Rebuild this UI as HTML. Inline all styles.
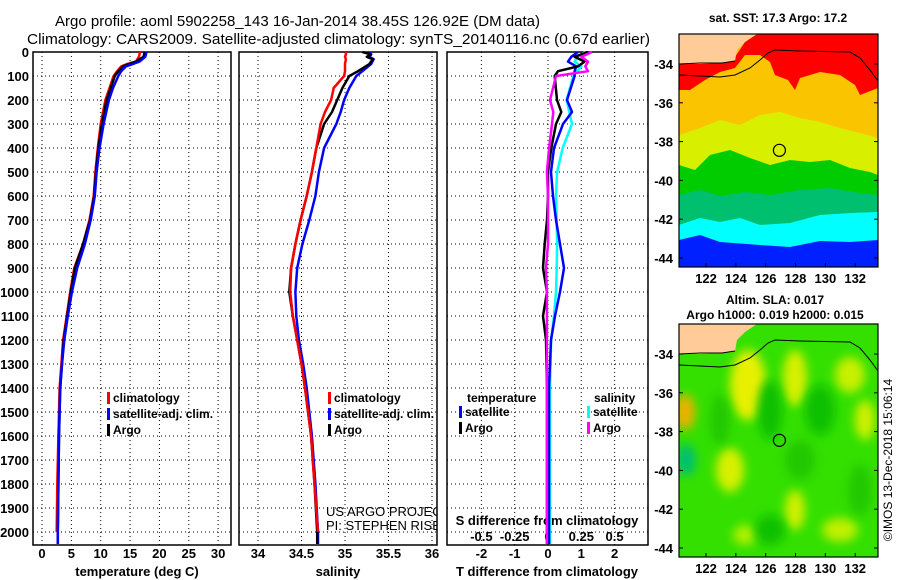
<!DOCTYPE html>
<html><head><meta charset="utf-8"><style>
html,body{margin:0;padding:0;background:#fff;}
svg{display:block;font-family:"Liberation Sans",sans-serif;font-weight:bold;}
</style></head><body>
<svg id="c" width="900" height="580" viewBox="0 0 900 580">
<defs>
<filter id="bl" x="-50%" y="-50%" width="200%" height="200%"><feGaussianBlur stdDeviation="5"/></filter>
<clipPath id="m1"><rect x="679" y="34" width="199" height="233"/></clipPath>
<clipPath id="m2"><rect x="679" y="324" width="199" height="233"/></clipPath>
<clipPath id="p2"><rect x="239" y="52" width="198" height="520"/></clipPath>
</defs>
<text x="55" y="26" font-size="15" font-weight="normal" textLength="485" lengthAdjust="spacingAndGlyphs">Argo profile: aoml 5902258_143 16-Jan-2014 38.45S 126.92E (DM data)</text>
<text x="27" y="44" font-size="15" font-weight="normal" textLength="623" lengthAdjust="spacingAndGlyphs">Climatology: CARS2009. Satellite-adjusted climatology: synTS_20140116.nc (0.67d earlier)</text>
<g id="g"></g>
</svg>
<script>
// depth grid (dbar)
const depthTicks=[0,100,200,300,400,500,600,700,800,900,1000,1100,1200,1300,1400,1500,1600,1700,1800,1900,2000];
// temperature panel
const tTicks=[0,5,10,15,20,25,30];
const tDepth=[0,20,40,50,60,80,100,150,200,300,400,500,600,700,800,900,1000,1100,1200,1300,1400,1600,1800,2000,2050];
const tArgo=[17.5,17.3,16,14.8,13.8,13,12.4,11.7,11.0,10.2,9.6,9.2,8.9,8.2,7.0,5.6,4.9,4.3,3.7,3.4,3.1,2.9,2.8,2.7,2.7];
const tClim=[16.7,16.5,16.0,14.5,13.5,12.8,12.2,11.5,10.8,10.0,9.5,9.1,8.8,8.1,7.0,5.5,4.8,4.2,3.6,3.3,3.0,2.8,2.6,2.5,null];
const tSat=[17.8,17.6,16.6,15.5,14.3,13.5,13.0,12.1,11.4,10.5,9.8,9.3,9.0,8.3,7.3,6.0,5.1,4.4,3.8,3.4,3.1,2.9,2.8,2.7,2.7];
// salinity panel
const sTicks=[34,34.5,35,35.5,36];
const sDepth=[0,10,20,30,50,80,100,150,200,250,300,400,500,600,700,800,900,1000,1100,1200,1300,1400,1600,1800,2000,2050];
const sArgo=[35.2,35.3,35.25,35.32,35.28,35.15,35.05,34.97,34.91,34.85,34.76,34.67,34.62,34.56,34.49,34.43,34.38,34.36,34.40,34.45,34.50,34.54,34.61,34.65,34.68,34.68];
const sClim=[35.01,35.01,35.0,35.01,35.0,35.0,34.99,34.87,34.84,34.77,34.72,34.67,34.62,34.56,34.49,34.43,34.38,34.37,34.40,34.45,34.50,34.54,34.61,34.65,34.69,null];
const sSat=[35.28,35.3,35.28,35.33,35.3,35.2,35.13,35.05,34.99,34.95,34.90,34.76,34.70,34.66,34.59,34.51,34.45,34.43,34.44,34.47,34.52,34.56,34.62,34.66,34.69,34.69];
// difference panel
const dtTicks=[-2,-1,0,1,2];
const dsTickLabels=["-0.5","-0.25","0","0.25","0.5"];
const dsTicks=[-0.5,-0.25,0,0.25,0.5];
const dDepth=[0,20,40,60,80,100,200,250,300,400,500,600,700,800,900,1000,1100,1200,1400,2050];
const dtArgo=[1.2,0.8,1.1,0.9,0.3,0.2,0.27,0.4,0.24,0.1,0,0,-0.03,-0.1,-0.15,-0.03,-0.15,-0.06,-0.03,-0.03];
const dtSat=[0.9,0.7,0.6,0.85,0.8,0.8,0.57,0.72,0.45,0.18,0.09,0.15,0.24,0.36,0.48,0.36,0.21,0.09,0.03,0.03];
const dsArgo=[0.33,0.25,0.3,0.28,0.3,0.06,0.015,0.04,0.03,0.008,-0.008,0,0,0,-0.015,-0.008,-0.008,-0.008,-0.008,-0.008];
const dsSat=[0.28,0.22,0.2,0.25,0.22,0.19,0.14,0.16,0.18,0.11,0.068,0.06,0.065,0.068,0.065,0.06,0.045,0.023,0.015,0.015];
// map axes
const lonTicks=[122,124,126,128,130,132];
const latTicks=[-34,-36,-38,-40,-42,-44];
const floatLon=[126.92], floatLat=[-38.45];

const NS="http://www.w3.org/2000/svg", G=document.getElementById('g');
function el(t,a,p){const e=document.createElementNS(NS,t);for(const k in a)e.setAttribute(k,a[k]);(p||G).appendChild(e);return e;}
function tx(x,y,s,sz,anc,name,p){const e=el('text',{x:x,y:y,'font-size':sz,'text-anchor':anc||'middle'},p);e.textContent=s;


return e;}
const Y=d=>52+0.24*d, yTop=52, yBot=545;
const X1=v=>42+5.87*v, X2=v=>258+87*(v-34), X3=v=>548+33.3*v, X3s=v=>548+133.2*v;
function panel(x0,x1,xt,fx,name){
  const g=el('g',{});
  
  
  depthTicks.forEach(d=>{el('line',{x1:x0,x2:x1,y1:Y(d),y2:Y(d),stroke:'#000','stroke-dasharray':'1 3'},g);});
  xt.forEach(v=>{el('line',{x1:fx(v),x2:fx(v),y1:yTop,y2:yBot,stroke:'#000','stroke-dasharray':'1 3'},g);});
  el('rect',{x:x0,y:yTop,width:x1-x0,height:yBot-yTop,fill:'none',stroke:'#000','stroke-width':1.5},g);
  return g;}
function line(xs,ds,fx,col,name,w){
  let p='';xs.forEach((v,i)=>{if(v===null)return;p+=(p?'L':'M')+fx(v).toFixed(1)+' '+Y(ds[i]).toFixed(1);});
  const e=el('path',{d:p,fill:'none',stroke:col,'stroke-width':w||2.5,'stroke-linejoin':'round'});
  
  }
depthTicks.forEach(d=>tx(29,Y(d)+5,String(d),13,'end','depth-tick-label'));
panel(33,231,tTicks,X1,'temperature-panel');
panel(239,437,sTicks,X2,'salinity-panel');
panel(447,648,dtTicks,X3,'difference-panel');
tTicks.forEach(v=>tx(X1(v),558,String(v),13,'middle','temperature-tick-label'));
sTicks.forEach(v=>tx(X2(v),558,String(v),13,'middle','salinity-tick-label'));
dtTicks.forEach(v=>tx(X3(v),558,String(v),13,'middle','t-diff-tick-label'));
dsTicks.forEach((v,i)=>tx(X3s(v),541,dsTickLabels[i],13,'middle','s-diff-tick-label'));
tx(137,576,'temperature (deg C)',13,'middle','temperature-axis-title');
tx(338,576,'salinity',13,'middle','salinity-axis-title');
tx(547,576,'T difference from climatology',13,'middle','t-diff-axis-title');
tx(547,525,'S difference from climatology',13,'middle','s-diff-axis-title');
line(tClim,tDepth,X1,'#f00','temperature-climatology-line');
line(tArgo,tDepth,X1,'#000','temperature-argo-line');
line(tSat,tDepth,X1,'#00f','temperature-satellite-line');
line(sSat,sDepth,X2,'#00f','salinity-satellite-line');
line(sArgo,sDepth,X2,'#000','salinity-argo-line');
line(sClim,sDepth,X2,'#f00','salinity-climatology-line');
line(dsSat,dDepth,X3s,'#0ff','s-diff-satellite-line');
line(dtSat,dDepth,X3,'#00f','t-diff-satellite-line');
line(dtArgo,dDepth,X3,'#000','t-diff-argo-line');
line(dsArgo,dDepth,X3s,'#f0f','s-diff-argo-line');
function leg(x,y,col,s,name){el('rect',{x:x,y:y-10,width:3,height:12,fill:col});tx(x+6,y,s,12,'start',name);}
[[107,'#f00','climatology'],[107,'#00f','satellite-adj. clim.'],[107,'#000','Argo']].forEach((a,i)=>leg(a[0],402+i*16,a[1],a[2],'legend-temperature-'+i));
[[328,'#f00','climatology'],[328,'#00f','satellite-adj. clim.'],[328,'#000','Argo']].forEach((a,i)=>leg(a[0],402+i*16,a[1],a[2],'legend-salinity-'+i));
tx(467,402,'temperature',12,'start','legend-temperature-heading');
leg(459,416,'#00f','satellite','legend-t-satellite');leg(459,432,'#000','Argo','legend-t-argo');
tx(594,402,'salinity',12,'start','legend-salinity-heading');
leg(587,416,'#0ff','satellite','legend-s-satellite');leg(587,432,'#f0f','Argo','legend-s-argo');
const cg=el('g',{'clip-path':'url(#p2)'});
const c1=tx(326,516,'US ARGO PROJECT',13,'start','credit-project',cg);c1.setAttribute('font-weight','normal');
const c2=tx(326,530,'PI: STEPHEN RISER',13,'start','credit-pi',cg);c2.setAttribute('font-weight','normal');
// maps
const LX=v=>706+14.92*(v-122), LY=(v,y0)=>y0+30+19.4*(-34-v);
function map(y0,clip,name,bodyFn){
  const g=el('g',{'clip-path':'url(#'+clip+')'});
  
  
  bodyFn(g,y0);
  el('path',{d:`M679 ${y0}L757 ${y0}L745 ${y0+8}L737 ${y0+16}L735 ${y0+27}L722 ${y0+29}L700 ${y0+30}L679 ${y0+30}Z`,fill:'#ffcc99'},g);
  el('path',{d:`M679 ${y0+41}L700 ${y0+42}L720 ${y0+43}L735 ${y0+41}L750 ${y0+34}L760 ${y0+26}L768 ${y0+19}L775 ${y0+16}L800 ${y0+17}L850 ${y0+18}L860 ${y0+24}L870 ${y0+36}L878 ${y0+47}`,fill:'none',stroke:'#000','stroke-width':1},g);
  el('path',{d:`M679 ${y0+30}L700 ${y0+29}L722 ${y0+29}L735 ${y0+27}`,fill:'none',stroke:'#000','stroke-width':1},g);
  const c=el('circle',{cx:LX(floatLon[0]),cy:LY(floatLat[0],y0),r:6,fill:'none',stroke:'#000','stroke-width':1.2});
  
  
  el('rect',{x:679,y:y0,width:199,height:233,fill:'none',stroke:'#000','stroke-width':1.2});
  latTicks.forEach(v=>{tx(673,LY(v,y0)+5,String(v),13,'end','latitude-tick-label');el('line',{x1:679,x2:683,y1:LY(v,y0),y2:LY(v,y0),stroke:'#000'});el('line',{x1:874,x2:878,y1:LY(v,y0),y2:LY(v,y0),stroke:'#000'});});
  lonTicks.forEach(v=>{tx(LX(v),y0+249,String(v),13,'middle','longitude-tick-label');el('line',{x1:LX(v),x2:LX(v),y1:y0+233,y2:y0+229,stroke:'#000'});});
}
map(34,'m1','sst-map',(g,y0)=>{
  el('rect',{x:679,y:y0,width:199,height:233,fill:'#fbc400'},g);
  el('path',{d:'M679 135L700 128L720 120L740 125L760 115L780 112L800 118L820 122L840 128L860 133L878 138L878 267L679 267Z',fill:'#d8f000'},g);
  el('path',{d:'M679 165L695 170L710 155L730 150L750 158L770 165L790 160L810 162L830 160L850 168L870 172L878 175L878 267L679 267Z',fill:'#00cc00'},g);
  el('path',{d:'M679 195L700 190L720 196L745 192L770 195L800 190L830 188L860 193L878 195L878 267L679 267Z',fill:'#00c070'},g);
  el('path',{d:'M679 225L700 218L720 222L740 218L760 225L790 223L820 215L850 213L878 212L878 267L679 267Z',fill:'#00ffff'},g);
  el('path',{d:'M679 240L700 235L720 242L760 245L790 247L820 241L850 242L878 240L878 267L679 267Z',fill:'#0020ff'},g);
  el('path',{d:'M679 90L679 63L733 60L745 42L757 34L878 34L878 88L860 95L855 85L840 75L820 72L800 78L795 90L788 80L775 75L770 62L760 55L745 55L735 68L720 72L705 80L690 90Z',fill:'#ff0000'},g);
});
map(324,'m2','sla-map',(g,y0)=>{
  el('rect',{x:679,y:y0,width:199,height:233,fill:'#33e000'},g);
  const blobs=[[685,412,10,18,'#f0b000'],[748,385,18,35,'#e8f000'],[795,378,12,28,'#d8f000'],[850,375,15,18,'#c8f000'],[865,420,10,20,'#d0f000'],[686,460,10,16,'#00c070'],[730,470,14,22,'#d8f000'],[795,510,10,20,'#d0f000'],[840,530,18,12,'#c0f000'],[745,535,12,10,'#b0f000'],[770,410,12,30,'#10c000'],[820,410,15,25,'#10c000'],[800,460,15,20,'#20c800'],[720,420,10,25,'#20c800'],[860,490,12,25,'#20c800'],[770,530,15,15,'#10c000']];
  blobs.forEach(b=>{el('ellipse',{cx:b[0],cy:b[1],rx:b[2],ry:b[3],fill:b[4],filter:'url(#bl)'},g);});
});
tx(778,22,'sat. SST: 17.3 Argo: 17.2',12,'middle','sst-map-title');
tx(775,304,'Altim. SLA: 0.017',12,'middle','sla-map-title-1');
tx(775,319,'Argo h1000: 0.019 h2000: 0.015',12,'middle','sla-map-title-2');
const cr=tx(0,0,'\u00a9IMOS 13-Dec-2018 15:06:14',12,'middle','imos-credit');
cr.setAttribute('transform','translate(892,460) rotate(-90)');cr.setAttribute('font-weight','normal');
</script>
</body></html>
